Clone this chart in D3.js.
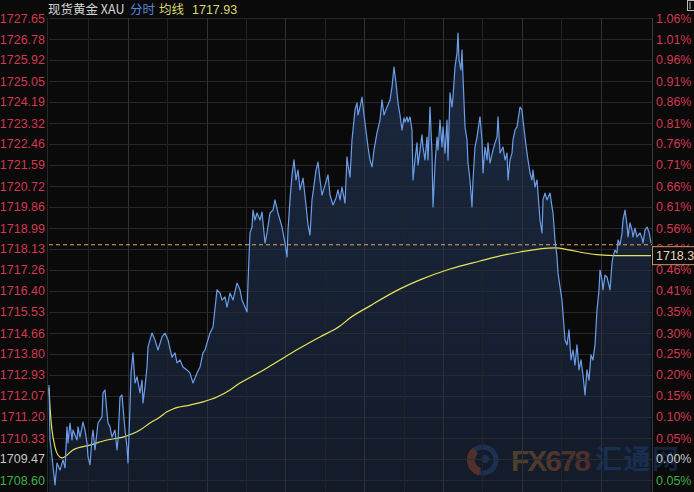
<!DOCTYPE html>
<html><head><meta charset="utf-8">
<script src="https://cdn.jsdelivr.net/npm/d3@7"></script>
<style>
html,body{margin:0;padding:0;background:#0a0a0a;}
svg{display:block;}
</style></head>
<body>
<svg id="c" width="694" height="492"></svg>
<script>
// ---- data ----
const minutes = [0,1,3,6,8,11,14,16,18,19,21,23,24,28,29,31,34,36,38,39,41,43,44,46,49,53,54,56,58,59,61,63,66,68,69,71,73,74,76,78,79,81,82,84,86,88,91,93,94,96,98,99,103,106,109,113,116,119,123,126,128,131,134,138,141,144,148,151,154,156,158,161,164,168,171,173,176,178,181,184,188,191,193,196,198,199,201,203,204,206,208,211,213,216,218,221,224,226,229,233,236,238,239,241,243,245,247,249,251,254,257,259,261,263,265,267,269,271,273,276,279,281,284,287,289,291,293,296,298,299,301,303,306,308,309,311,313,315,316,319,321,323,325,328,331,333,335,338,341,343,345,347,349,351,353,355,356,358,359,361,363,364,366,368,369,371,373,374,376,378,379,381,383,384,386,388,389,391,393,394,396,398,399,401,403,404,406,408,409,410,412,413,414,416,418,419,421,423,424,426,428,429,431,433,434,436,438,439,441,444,446,448,449,451,454,456,458,459,461,463,464,466,468,469,471,473,474,476,478,479,481,483,484,486,488,489,491,493,494,496,498,501,503,504,506,508,509,511,513,516,518,520,522,524,526,528,530,532,534,536,538,540,542,544,546,548,550,551,553,554,556,558,561,563,564,566,568,569,571,573,574,576,578,579,581,583,584,586,588,591,593,594,596,598,600,601,602];
const prices = [1712.52,1710.25,1709.55,1708.40,1709.30,1709.01,1709.43,1709.10,1710.79,1710.13,1710.95,1710.25,1710.66,1710.25,1710.79,1710.37,1710.99,1710.66,1710.13,1709.55,1709.22,1710.37,1710.66,1709.84,1710.95,1711.20,1712.19,1712.31,1711.36,1710.95,1710.79,1710.37,1710.66,1709.84,1710.25,1712.02,1712.11,1711.61,1710.66,1709.96,1709.30,1711.61,1713.01,1713.84,1712.60,1712.85,1712.19,1712.72,1711.78,1712.44,1713.26,1714.09,1714.66,1714.37,1713.96,1714.50,1714.66,1714.37,1713.67,1713.84,1713.43,1713.55,1713.26,1713.14,1713.01,1712.60,1713.01,1713.26,1713.84,1713.96,1714.25,1714.66,1714.91,1716.44,1716.31,1716.02,1716.15,1715.73,1716.31,1716.02,1716.72,1716.44,1716.02,1715.73,1715.53,1716.72,1718.79,1719.03,1719.73,1719.32,1719.61,1719.32,1719.65,1718.37,1718.79,1719.61,1719.73,1720.15,1719.61,1719.03,1718.37,1717.80,1718.91,1720.15,1721.18,1721.80,1720.97,1721.38,1720.56,1721.05,1719.94,1719.12,1718.70,1720.15,1720.76,1721.38,1721.71,1720.97,1720.35,1720.76,1721.18,1720.35,1719.94,1720.23,1720.56,1720.15,1720.68,1720.02,1721.92,1721.59,1721.09,1722.62,1723.86,1724.15,1723.65,1723.98,1724.39,1723.65,1723.32,1722.33,1721.80,1721.51,1722.21,1722.91,1723.44,1724.27,1723.65,1723.98,1724.27,1724.81,1725.63,1724.97,1724.15,1723.65,1723.03,1723.53,1723.36,1723.57,1723.36,1723.57,1723.03,1720.97,1721.80,1722.50,1721.59,1722.21,1722.83,1722.33,1721.80,1722.74,1721.80,1723.98,1722.08,1719.86,1721.59,1722.74,1722.21,1723.44,1722.33,1723.16,1722.08,1723.44,1721.80,1724.56,1723.98,1724.39,1725.63,1726.21,1727.03,1725.92,1725.51,1726.33,1725.22,1723.16,1722.62,1721.67,1720.97,1719.86,1720.97,1722.33,1722.74,1723.03,1723.57,1722.62,1721.26,1722.33,1721.80,1722.50,1721.67,1722.21,1722.50,1722.74,1723.57,1722.08,1722.33,1721.80,1722.08,1720.97,1721.80,1722.08,1722.62,1723.03,1723.16,1723.44,1723.98,1723.86,1723.44,1722.74,1722.08,1721.80,1721.26,1720.97,1721.38,1720.68,1720.97,1720.43,1719.32,1718.79,1720.15,1720.43,1720.15,1720.43,1719.86,1719.61,1718.50,1717.80,1717.14,1716.56,1716.02,1714.37,1714.17,1714.79,1713.55,1713.96,1713.34,1714.17,1713.14,1713.55,1712.93,1712.11,1713.14,1712.72,1713.76,1713.55,1714.17,1715.61,1716.44,1717.26,1716.85,1716.44,1717.05,1716.97,1716.44,1717.55,1717.80,1718.08,1717.96,1718.50,1718.29,1718.79,1719.32,1719.73,1719.12,1718.62,1719.20,1718.91,1718.62,1718.99,1718.62,1718.79,1718.58,1718.37,1718.91,1719.03,1718.83,1718.62,1718.37];

const avgMinutes = [0,1,3,6,9,13,18,24,41,58,74,91,101,111,118,124,141,154,168,181,191,211,231,251,271,291,301,321,351,371,401,431,451,471,491,506,521,536,551,566,602];
const avgValues  = [1712.40,1711.61,1710.66,1709.96,1709.63,1709.51,1709.63,1709.84,1710.04,1710.25,1710.37,1710.66,1710.95,1711.20,1711.41,1711.53,1711.69,1711.82,1712.02,1712.31,1712.60,1713.05,1713.55,1714.04,1714.50,1714.95,1715.28,1715.78,1716.48,1716.85,1717.30,1717.63,1717.84,1718.00,1718.13,1718.17,1718.08,1717.96,1717.88,1717.85,1717.85];

const priceTicks = [1727.65,1726.78,1725.92,1725.05,1724.19,1723.32,1722.46,1721.59,1720.72,1719.86,1718.99,1718.13,1717.26,1716.40,1715.53,1714.66,1713.80,1712.93,1712.07,1711.20,1710.33,1709.47,1708.60];
const pctLabels  = ["1.06%","1.01%","0.96%","0.91%","0.86%","0.81%","0.76%","0.71%","0.66%","0.61%","0.56%","0.51%","0.46%","0.41%","0.35%","0.30%","0.25%","0.20%","0.15%","0.10%","0.05%","0.00%","0.05%"];
const prevClose = 1709.47;
const lastPrice = 1718.3;
const lastPriceLabel = "1718.3";
const avgLabel = "1717.93";
const gridMinutes = [39.4,78.8,118.2,157.6,197,236.4,275.8,315.2,354.6,394,433.4,472.8,512.2,551.6];
const titleParts = ["现货黄金 XAU","分时","均线"];

// ---- chart ----
const svg = d3.select("#c");
const L = 49, R = 652, T = 18, B = 480, BOTTOM = 492;
const x = d3.scaleLinear().domain([0, 602]).range([L, 651]);
const y = d3.scaleLinear().domain([1708.60, 1727.65]).range([B, T]);

const defs = svg.append("defs");
const g1 = defs.append("linearGradient").attr("id","fillg").attr("x1",0).attr("y1",0).attr("x2",0).attr("y2",1);
g1.append("stop").attr("offset","0%").attr("stop-color","#1a2840");
g1.append("stop").attr("offset","100%").attr("stop-color","#131b29");
const g2 = defs.append("linearGradient").attr("id","wmg").attr("x1",0).attr("y1",0).attr("x2",1).attr("y2",0);
g2.append("stop").attr("offset","0%").attr("stop-color","#a57a32");
g2.append("stop").attr("offset","100%").attr("stop-color","#a8452a");

svg.append("rect").attr("width",694).attr("height",492).attr("fill","#0a0a0a");

// area
const area = d3.area().x((d,i)=>x(minutes[i])).y0(BOTTOM).y1(d=>y(d));
svg.append("path").datum(prices).attr("d",area).attr("fill","url(#fillg)");

// watermark
const wm = svg.append("g").attr("opacity",0.4);
wm.append("circle").attr("cx",483).attr("cy",460).attr("r",13).attr("fill","none").attr("stroke","#2a4f8a").attr("stroke-width",5);
wm.append("path").attr("d",d3.arc()({innerRadius:8,outerRadius:16,startAngle:3.4,endAngle:5.6})).attr("transform","translate(483,460)").attr("fill","#b0502a");
wm.append("circle").attr("cx",485).attr("cy",459).attr("r",4).attr("fill","#2a4f8a");
wm.append("text").attr("x",511).attr("y",471).text("FX678")
  .attr("font-family","'Liberation Sans', Arial, sans-serif").attr("font-weight","bold").attr("font-size",30)
  .attr("fill","url(#wmg)").attr("textLength",80);
wm.append("text").attr("x",595).attr("y",469).text("汇通网")
  .attr("font-family","'Noto Sans CJK SC', sans-serif").attr("font-weight","bold").attr("font-size",27)
  .attr("fill","#1f4c8c").attr("textLength",84);

// grid
const grid = svg.append("g");
grid.selectAll("line.h").data(priceTicks).join("line")
  .attr("x1",L).attr("x2",R).attr("y1",d=>Math.round(y(d))+0.5).attr("y2",d=>Math.round(y(d))+0.5)
  .attr("stroke","#2a2d33").attr("stroke-width",1).attr("opacity",0.85);
grid.selectAll("line.v").data(gridMinutes).join("line")
  .attr("x1",d=>Math.round(x(d))+0.5).attr("x2",d=>Math.round(x(d))+0.5).attr("y1",T).attr("y2",BOTTOM)
  .attr("stroke",(d,i)=> i%2===1 ? "#2e3238" : "#202328").attr("stroke-width",1);
grid.append("line").attr("x1",L-1.5).attr("x2",L-1.5).attr("y1",T).attr("y2",BOTTOM).attr("stroke","#26282c");
grid.append("line").attr("x1",R+0.5).attr("x2",R+0.5).attr("y1",T).attr("y2",BOTTOM).attr("stroke","#3a3c40");

// average line
const avgLine = d3.line().x((d,i)=>x(avgMinutes[i])).y(d=>y(d)).curve(d3.curveMonotoneX);
svg.append("path").datum(avgValues).attr("d",avgLine).attr("fill","none").attr("stroke","#e6e45a").attr("stroke-width",1.2);

// price line
const line = d3.line().x((d,i)=>x(minutes[i])).y(d=>y(d));
svg.append("path").datum(prices).attr("d",line).attr("fill","none").attr("stroke","#6b9de8").attr("stroke-width",1.2).attr("stroke-linejoin","round");

// current price dashed line
svg.append("line").attr("x1",L).attr("x2",R).attr("y1",y(lastPrice)).attr("y2",y(lastPrice))
  .attr("stroke","#e0a466").attr("stroke-width",1).attr("stroke-dasharray","4,3");

// axes
const colorFor = v => Math.abs(v-prevClose)<0.005 ? "#c8c8c8" : (v>prevClose ? "#d2384e" : "#3fae4a");
const leftAxis = svg.append("g").attr("transform",`translate(${L},0)`)
  .call(d3.axisLeft(y).tickValues(priceTicks).tickFormat(d3.format(".2f")).tickSize(0).tickPadding(4));
leftAxis.select(".domain").remove();
leftAxis.selectAll("text").attr("fill",d=>colorFor(d)).attr("font-size",12.5)
  .attr("font-family","'Liberation Sans', Arial, sans-serif");

const rightAxis = svg.append("g").attr("transform",`translate(${R},0)`)
  .call(d3.axisRight(y).tickValues(priceTicks).tickFormat((d,i)=>pctLabels[i]).tickSize(0).tickPadding(4));
rightAxis.select(".domain").remove();
rightAxis.selectAll("text").attr("fill",d=>colorFor(d)).attr("font-size",12.5)
  .attr("font-family","'Liberation Sans', Arial, sans-serif");

// last avg box
const boxY = y(avgValues[avgValues.length-1]);
svg.append("rect").attr("x",R+0.5).attr("y",boxY-9).attr("width",48).attr("height",18)
  .attr("fill","#0a0a0a").attr("stroke","#c99a6c").attr("stroke-width",1);
svg.append("text").attr("x",656).attr("y",boxY+4.5).text(lastPriceLabel)
  .attr("fill","#ead2b4").attr("font-size",12.5).attr("font-family","'Liberation Sans', Arial, sans-serif");

// header
const hf = "'Noto Sans CJK SC', 'Liberation Sans', sans-serif";
const hy = 14;
svg.append("text").attr("x",48).attr("y",hy).text(titleParts[0]).attr("fill","#d6d6d6").attr("font-size",12.5).attr("font-family",hf);
svg.append("text").attr("x",130).attr("y",hy).text(titleParts[1]).attr("fill","#5a86d6").attr("font-size",12.5).attr("font-family",hf);
svg.append("text").attr("x",159).attr("y",hy).text(titleParts[2]).attr("fill","#dcd870").attr("font-size",12.5).attr("font-family",hf);
svg.append("text").attr("x",192).attr("y",hy).text(avgLabel).attr("fill","#dcd870").attr("font-size",12.5).attr("font-family","'Liberation Sans', Arial, sans-serif");

// corner icon
svg.append("rect").attr("x",687.5).attr("y",0.5).attr("width",7).attr("height",10).attr("fill","none").attr("stroke","#bbbbbb");
svg.append("line").attr("x1",690).attr("x2",690).attr("y1",2).attr("y2",9).attr("stroke","#bbbbbb");
</script>
</body></html>
